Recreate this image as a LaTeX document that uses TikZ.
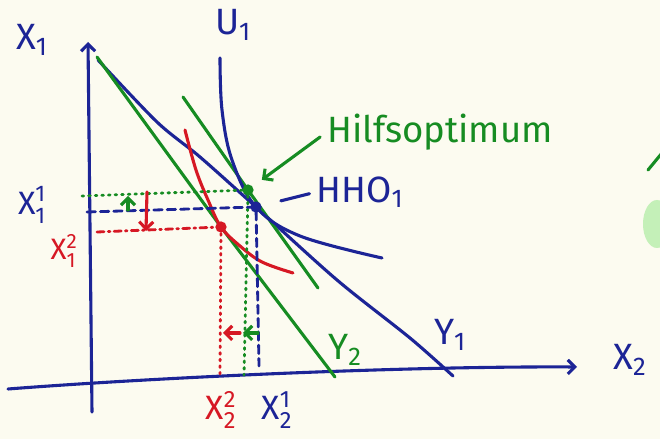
\documentclass[tikz,border=0pt]{standalone}
\usepackage{fontspec}
\usepackage{amsmath}
\setmainfont{Fira Sans}
\usetikzlibrary{calc,arrows.meta}
\definecolor{ink}{RGB}{28,36,150}
\definecolor{grn}{RGB}{22,140,34}
\definecolor{rd}{RGB}{214,24,36}
\definecolor{paper}{RGB}{252,251,240}
\definecolor{blob}{RGB}{196,240,184}
\begin{document}
\begin{tikzpicture}[x=0.025cm,y=-0.025cm,line cap=round,line join=round,
  pen/.style={line width=2.2pt},
  tip/.style={-{Straight Barb[length=5pt,width=10pt]}},
  dashguide/.style={line width=2pt,dash pattern=on 6pt off 3.5pt},
  dotguide/.style={line width=2pt,dash pattern=on 1.2pt off 3.5pt},
  dashdotguide/.style={line width=2pt,dash pattern=on 5pt off 3pt on 1.2pt off 3pt},
  pt/.style={circle,fill,inner sep=0pt,minimum size=8pt},
  lab/.style={font=\fontsize{26}{26}\selectfont,inner sep=0pt}]
\useasboundingbox (0,0) rectangle (660,439);
\fill[paper] (0,0) rectangle (660,439);
% axes
\coordinate (ybot) at (92,412); \coordinate (ytop) at (88,42);
\coordinate (xleft) at (8,389); \coordinate (xright) at (577,367);
\draw[ink,pen,tip] (ybot) -- (ytop);
\draw[ink,pen,tip] (xleft) .. controls (150,378) and (400,366) .. (xright);
% optimum points
\coordinate (H) at (248,190); \coordinate (B) at (256,207); \coordinate (R) at (221,227);
% budget lines
\draw[ink,pen] plot[smooth,tension=0.5] coordinates {(98,60) (157,122) (200,157) (B) (337,280) (410,338) (453,376)};
\draw[grn,pen] (97,57) -- (R) -- (335,377);
\draw[grn,pen] (183,97) -- (H) -- (318,288);
% indifference curves
\draw[ink,pen] plot[smooth,tension=0.6] coordinates {(220,58) (222,110) (232,160) (B) (300,236) (382,258)};
\draw[rd,pen] plot[smooth,tension=0.6] coordinates {(185,130) (196,170) (208,200) (R) (240,246) (262,262) (293,273)};
% guide lines
\draw[grn,dotguide] (82,196) -- (H) -- (244,375);
\draw[ink,dashguide] (87,212) -- (B) -- (259,366);
\draw[rd,dashdotguide] (97,232) -- (R);
\draw[rd,dotguide] (R) -- (220,374);
% shifts
\draw[grn,pen,tip] (128,210) -- (128,196);
\draw[rd,pen,tip] (147,192) -- (146,231);
\draw[grn,pen,tip] (258,333) -- (243,333);
\draw[rd,pen,tip] (240,333) -- (223,333);
\node[pt,grn] (hpt) at (H) {}; \node[pt,ink] (bpt) at (B) {}; \node[pt,rd] (rpt) at (R) {};
% labels
\node[ink,lab] (x1) at (32,40) {X\textsubscript{1}};
\node[ink,lab] (u1) at (233,25) {U\textsubscript{1}};
\node[ink,lab] (x2) at (630,360) {X\textsubscript{2}};
\node[ink,lab] (y1) at (450,335) {Y\textsubscript{1}};
\node[grn,lab] (y2) at (345,350) {Y\textsubscript{2}};
\node[grn,lab] (hilf) at (440,132) {Hilfsoptimum};
\node[ink,lab] (hho) at (360,192) {HHO\textsubscript{1}};
\node[ink,lab,font=\fontsize{23}{23}\selectfont] (x11) at (32,205) {X$^{\text{1}}_{\text{1}}$};
\node[rd,lab,font=\fontsize{21}{21}\selectfont] (x12) at (64,251) {X$^{\text{2}}_{\text{1}}$};
\node[rd,lab,font=\fontsize{24}{24}\selectfont] (x22) at (221,410) {X$^{\text{2}}_{\text{2}}$};
\node[ink,lab,font=\fontsize{24}{24}\selectfont] (x21) at (277,410) {X$^{\text{1}}_{\text{2}}$};
\draw[grn,pen,tip,shorten <=6pt,shorten >=8pt] (hilf.west) -- (hpt);
\draw[ink,pen,shorten <=5pt,shorten >=14pt] (hho.west) -- (bpt);
% cut-off marks at the right edge
\draw[grn,pen] (648,170) -- (662,153);
\fill[blob] (657,224) ellipse (14 and 24);
\end{tikzpicture}
\end{document}
